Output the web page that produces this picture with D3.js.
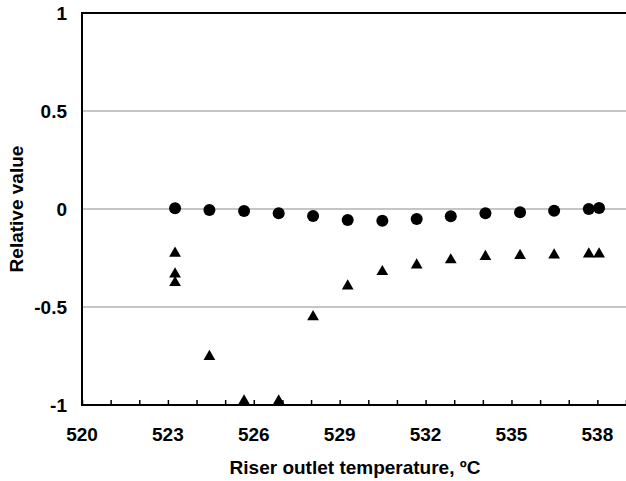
<!DOCTYPE html>
<html>
<head>
<meta charset="utf-8">
<script src="https://cdn.jsdelivr.net/npm/d3@7"></script>
<style>
  body { margin: 0; background: #fff; }
  svg { display: block; }
  text { font-family: "Liberation Sans", Arial, Helvetica, sans-serif; font-weight: bold; fill: #000; }
</style>
</head>
<body>
<script>
////////////////   Data   ////////////////

// riser outlet temperature, degC
var circleX = [523.25, 524.45, 525.66, 526.87, 528.07, 529.28, 530.49, 531.69, 532.88, 534.09, 535.30, 536.49, 537.70, 538.06];
var circleY = [0.004, -0.005, -0.01, -0.022, -0.036, -0.056, -0.06, -0.051, -0.037, -0.022, -0.017, -0.009, 0.0, 0.005];

var triangleX = [523.25, 523.25, 523.25, 524.45, 525.66, 526.87, 528.07, 529.28, 530.49, 531.69, 532.88, 534.09, 535.30, 536.49, 537.70, 538.06];
var triangleY = [-0.226, -0.332, -0.376, -0.753, -0.98, -0.98, -0.55, -0.393, -0.32, -0.286, -0.26, -0.243, -0.238, -0.235, -0.23, -0.23];

var xTickLabels = [520, 523, 526, 529, 532, 535, 538];
var yTickLabels = [1, 0.5, 0, -0.5, -1];

////////////////   Layout   ////////////////

var width = 626, height = 481;
var margin = {top: 13, right: 0, bottom: 76, left: 82};

var svg = d3.select("body").append("svg")
    .attr("width", width)
    .attr("height", height);

var x = d3.scaleLinear().domain([520, 539]).range([margin.left, width - margin.right]);
var y = d3.scaleLinear().domain([-1, 1]).range([height - margin.bottom, margin.top]);

// gridlines
svg.append("g")
  .selectAll("line")
  .data([0.5, 0, -0.5])
  .enter().append("line")
    .attr("x1", x(520)).attr("x2", x(539))
    .attr("y1", function(d) { return y(d); })
    .attr("y2", function(d) { return y(d); })
    .attr("stroke", "#8c8c8c")
    .attr("stroke-width", 1.2);

// top border
svg.append("line")
    .attr("x1", x(520)).attr("x2", x(539))
    .attr("y1", y(1)).attr("y2", y(1))
    .attr("stroke", "#000").attr("stroke-width", 2);

// x axis: minor ticks every 1, labels every 3
var xAxis = d3.axisBottom(x)
    .tickValues(d3.range(520, 540, 1))
    .tickSize(-5)
    .tickFormat("");

var gx = svg.append("g")
    .attr("transform", "translate(0," + y(-1) + ")")
    .call(xAxis);
gx.select(".domain").attr("stroke", "#000").attr("stroke-width", 2).attr("d", "M" + x(520) + ",0H" + x(539));
gx.selectAll(".tick line").attr("stroke", "#000").attr("stroke-width", 1.5);

svg.append("g")
  .selectAll("text")
  .data(xTickLabels)
  .enter().append("text")
    .attr("x", function(d) { return x(d); })
    .attr("y", y(-1) + 36)
    .attr("text-anchor", "middle")
    .style("font-size", "19px")
    .text(function(d) { return d; });

// y axis line
svg.append("line")
    .attr("x1", x(520)).attr("x2", x(520))
    .attr("y1", y(1) - 1).attr("y2", y(-1) + 1)
    .attr("stroke", "#000").attr("stroke-width", 2);

svg.append("g")
  .selectAll("text")
  .data(yTickLabels)
  .enter().append("text")
    .attr("x", margin.left - 15)
    .attr("y", function(d) { return y(d); })
    .attr("dy", "0.36em")
    .attr("text-anchor", "end")
    .style("font-size", "19px")
    .text(function(d) { return d; });

// axis titles
svg.append("text")
    .attr("x", (x(520) + x(539)) / 2 + 1)
    .attr("y", 474)
    .attr("text-anchor", "middle")
    .style("font-size", "19px")
    .text("Riser outlet temperature, ºC");

svg.append("text")
    .attr("transform", "translate(23," + y(0) + ") rotate(-90)")
    .attr("text-anchor", "middle")
    .style("font-size", "19px")
    .text("Relative value");

////////////////   Markers   ////////////////

var circles = circleX.map(function(v, i) { return [v, circleY[i]]; });
var triangles = triangleX.map(function(v, i) { return [v, triangleY[i]]; });

svg.append("g")
  .selectAll("circle")
  .data(circles)
  .enter().append("circle")
    .attr("cx", function(d) { return x(d[0]); })
    .attr("cy", function(d) { return y(d[1]); })
    .attr("r", 6)
    .attr("fill", "#000");

var tri = d3.symbol().type(d3.symbolTriangle).size(60);

svg.append("g")
  .selectAll("path")
  .data(triangles)
  .enter().append("path")
    .attr("d", tri)
    .attr("transform", function(d) { return "translate(" + x(d[0]) + "," + y(d[1]) + ")"; })
    .attr("fill", "#000");
</script>
</body>
</html>
